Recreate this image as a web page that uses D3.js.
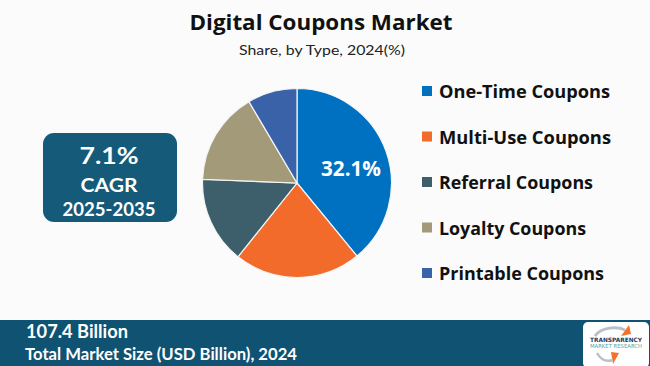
<!DOCTYPE html>
<html>
<head>
<meta charset="utf-8">
<script src="https://cdn.jsdelivr.net/npm/d3@7"></script>
<style>
  body { margin: 0; background: #fbfbfb; }
  svg { display: block; }
</style>
</head>
<body>
<svg id="chart"></svg>
<script>
// data
var types = ["One-Time Coupons", "Multi-Use Coupons", "Referral Coupons", "Loyalty Coupons", "Printable Coupons"];
var shares = [39.1, 21.7, 14.9, 15.9, 8.5];
var colors = ["#0070c0", "#f26b2a", "#3d5f6b", "#a39a79", "#3a62a8"];
var highlightLabel = "32.1%";
var cagrLines = ["7.1%", "CAGR", "2025-2035"];
var marketSize = "107.4 Billion";
var marketCaption = "Total Market Size (USD Billion), 2024";

var width = 650, height = 366;
var svg = d3.select("#chart").attr("width", width).attr("height", height);

svg.append("rect").attr("width", width).attr("height", height).attr("fill", "#fbfbfb");

// titles
svg.append("text")
	.attr("x", 321).attr("y", 30)
	.attr("text-anchor", "middle")
	.attr("font-family", "Open Sans")
	.attr("font-weight", 700)
	.attr("font-size", "21px")
	.attr("fill", "#111")
	.attr("textLength", 263)
	.attr("lengthAdjust", "spacingAndGlyphs")
	.text("Digital Coupons Market");

svg.append("text")
	.attr("x", 322).attr("y", 55)
	.attr("text-anchor", "middle")
	.attr("font-family", "Lato")
	.attr("font-size", "14px")
	.attr("fill", "#222")
	.attr("textLength", 166)
	.attr("lengthAdjust", "spacingAndGlyphs")
	.text("Share, by Type, 2024(%)");

// pie
var cx = 297, cy = 183, radius = 94.5;
var pie = d3.pie().sort(null).value(function (d) { return d; });
var arcGen = d3.arc().innerRadius(0).outerRadius(radius);
var g = svg.append("g").attr("transform", "translate(" + cx + "," + cy + ")");

g.selectAll("path.slice")
	.data(pie(shares))
	.enter()
	.append("path")
	.attr("class", "slice")
	.attr("d", arcGen)
	.attr("fill", function (d, i) { return colors[i]; })
	.attr("stroke", "#f4f4f4")
	.attr("stroke-width", 1.2);

g.append("text")
	.attr("x", 54).attr("y", -7)
	.attr("text-anchor", "middle")
	.attr("font-family", "Open Sans")
	.attr("font-weight", 700)
	.attr("font-size", "21px")
	.attr("fill", "#fff")
	.attr("textLength", 60)
	.attr("lengthAdjust", "spacingAndGlyphs")
	.text(highlightLabel);

// legend
var legendY = d3.scalePoint().domain(types).range([91, 273]);
var legend = svg.selectAll("g.legend")
	.data(types)
	.enter()
	.append("g")
	.attr("class", "legend")
	.attr("transform", function (d) { return "translate(422," + legendY(d) + ")"; });

legend.append("rect")
	.attr("x", 0).attr("y", -5)
	.attr("width", 10).attr("height", 10)
	.attr("fill", function (d, i) { return colors[i]; });

var legendWidths = [171, 172, 154, 147, 165];
legend.append("text")
	.attr("x", 17).attr("y", 7)
	.attr("font-family", "Open Sans")
	.attr("font-weight", 700)
	.attr("font-size", "18px")
	.attr("fill", "#111")
	.attr("textLength", function (d, i) { return legendWidths[i]; })
	.attr("lengthAdjust", "spacingAndGlyphs")
	.text(function (d) { return d; });

// CAGR box
svg.append("rect")
	.attr("x", 43).attr("y", 133)
	.attr("width", 134).attr("height", 89)
	.attr("rx", 11)
	.attr("fill", "#155a78");

var cagrY = [164, 192, 216];
var cagrSize = [22, 19, 19];
var cagrW = [59, 57, 93];
svg.selectAll("text.cagr")
	.data(cagrLines)
	.enter()
	.append("text")
	.attr("class", "cagr")
	.attr("x", 109)
	.attr("y", function (d, i) { return cagrY[i]; })
	.attr("text-anchor", "middle")
	.attr("font-family", "Lato")
	.attr("font-weight", 700)
	.attr("font-size", function (d, i) { return cagrSize[i] + "px"; })
	.attr("fill", "#fff")
	.attr("textLength", function (d, i) { return cagrW[i]; })
	.attr("lengthAdjust", "spacingAndGlyphs")
	.text(function (d) { return d; });

// bottom bar
svg.append("rect")
	.attr("x", 0).attr("y", 320)
	.attr("width", width).attr("height", 46)
	.attr("fill", "#0f5272");

svg.append("text")
	.attr("x", 26).attr("y", 338)
	.attr("font-family", "Lato")
	.attr("font-weight", 700)
	.attr("font-size", "18px")
	.attr("fill", "#fff")
	.attr("textLength", 102)
	.attr("lengthAdjust", "spacingAndGlyphs")
	.text(marketSize);

svg.append("text")
	.attr("x", 25).attr("y", 360)
	.attr("font-family", "Lato")
	.attr("font-weight", 700)
	.attr("font-size", "17px")
	.attr("fill", "#fff")
	.attr("textLength", 272)
	.attr("lengthAdjust", "spacingAndGlyphs")
	.text(marketCaption);

// logo
var logo = svg.append("g").attr("transform", "translate(583,322)");
logo.append("rect").attr("width", 66).attr("height", 46).attr("rx", 5).attr("fill", "#fff");
logo.append("path")
	.attr("d", "M12,14 C18,5 34,4 42,8")
	.attr("fill", "none").attr("stroke", "#b9bfc4").attr("stroke-width", 3);
logo.append("path")
	.attr("d", "M38,14 L46,3 L48,12 Z")
	.attr("fill", "#f2722b");
logo.append("path")
	.attr("d", "M28,30 L36,31 L30,42 Z")
	.attr("fill", "#f2722b");
logo.append("path")
	.attr("d", "M14,31 C18,38 24,40 30,38")
	.attr("fill", "none").attr("stroke", "#b9bfc4").attr("stroke-width", 2.5);
logo.append("text")
	.attr("x", 33).attr("y", 20)
	.attr("text-anchor", "middle")
	.attr("font-family", "DejaVu Sans")
	.attr("font-weight", 700)
	.attr("font-size", "6px")
	.attr("fill", "#1d3a5c")
	.attr("textLength", 52)
	.attr("lengthAdjust", "spacingAndGlyphs")
	.text("TRANSPARENCY");
logo.append("text")
	.attr("x", 33).attr("y", 26)
	.attr("text-anchor", "middle")
	.attr("font-family", "DejaVu Sans")
	.attr("font-size", "5.5px")
	.attr("fill", "#4fa3a8")
	.attr("textLength", 52)
	.attr("lengthAdjust", "spacingAndGlyphs")
	.text("MARKET RESEARCH");
</script>
</body>
</html>
